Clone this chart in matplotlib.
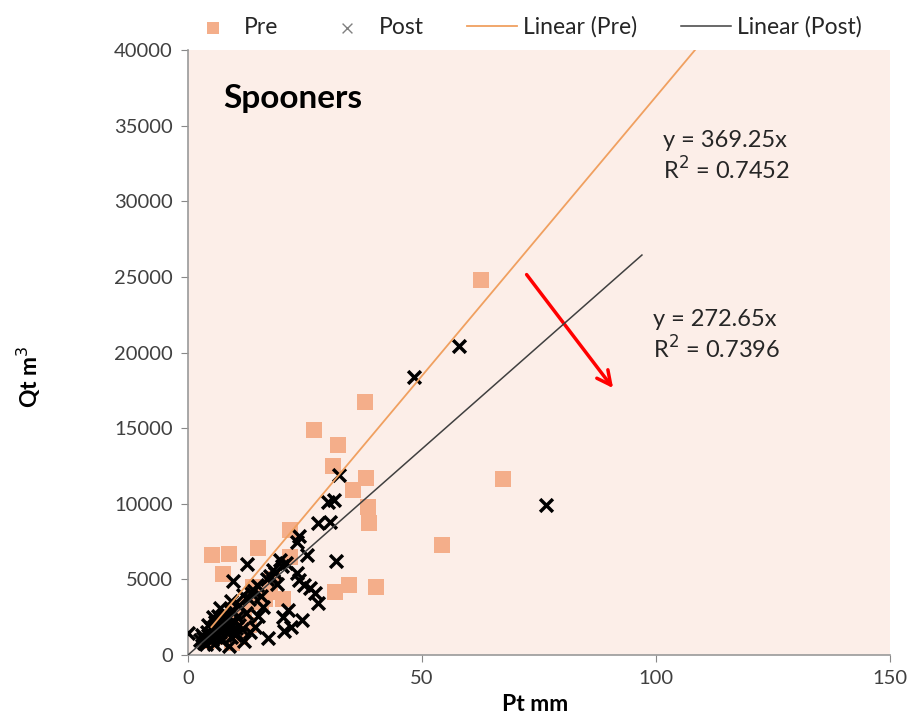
import numpy as np
import matplotlib.pyplot as plt

plt.rcParams['font.family'] = ['Lato', 'DejaVu Sans']

# rainfall (Pt, mm) vs runoff (Qt, m3), before and after
pre_pt = [62.6, 37.9, 27.0, 32.1, 30.9, 38.1, 67.4, 35.3, 38.5, 38.7, 21.7, 54.3,
          5.1, 8.7, 15.0, 7.4, 21.7, 40.2, 34.5, 31.5, 20.2, 10.0, 12.8, 15.7,
          16.5, 17.5, 9.4, 11.1, 13.0, 8.0, 6.0, 18.0, 14.0, 12.0, 4.0]
pre_qt = [24800, 16700, 14900, 13900, 12500, 11700, 11650, 10900, 9800, 8700, 8250, 7300,
          6600, 6700, 7050, 5350, 6500, 4500, 4600, 4150, 3700, 2950, 3400, 3500,
          3700, 4200, 800, 1200, 2000, 1500, 1200, 5000, 4500, 2500, 900]

post_pt = [57.9, 48.3, 76.6, 32.3, 30.0, 31.1, 27.7, 30.4, 31.7, 25.5, 23.8, 23.2,
           19.6, 18.1, 16.8, 23.2, 23.8, 24.9, 26.0, 27.1, 27.7, 21.3, 20.2, 24.3,
           22.1, 20.6, 17.0, 14.3, 12.6, 9.6, 0.0,
           2.5, 3.0, 3.5, 4.0, 4.5, 5.0, 5.5, 5.8, 6.2, 6.5, 7.0, 7.2, 7.8, 8.0,
           8.4, 8.8, 9.0, 9.5, 10.0, 10.5, 11.0, 11.5, 12.0, 12.5, 13.0, 13.5,
           14.0, 14.8, 15.5, 16.0, 17.5, 18.5, 19.0, 20.0, 21.0, 4.2, 6.8, 9.2,
           11.8, 15.0, 13.2,
           3.2, 3.8, 4.6, 5.2, 5.6, 6.0, 6.4, 6.9, 7.4, 7.9, 8.3, 8.7, 9.3, 9.8,
           10.3, 10.8, 5.4, 7.6]
post_qt = [20400, 18400, 9950, 11900, 10100, 10250, 8750, 8800, 6200, 6600, 7900, 7450,
           6250, 5600, 5000, 5400, 4950, 4650, 4400, 4100, 3450, 2950, 2500, 2300,
           1850, 1600, 1150, 1850, 6050, 4900, 1450,
           1000, 1300, 800, 1500, 1100, 1800, 700, 2200, 1400, 2600, 1000, 1900, 2300, 2800,
           1500, 600, 2100, 3000, 1300, 2500, 3300, 1700, 900, 2800, 3700, 4100,
           4300, 4600, 3900, 3200, 5200, 5400, 4700, 5900, 6100, 2000, 3100, 3600,
           4000, 2600, 1500,
           1100, 700, 1300, 1000, 1600, 1200, 1900, 1500, 2100, 1700, 2400, 1900, 1200, 2200,
           1800, 2000, 2500, 2600]

# trendlines through origin
slope_pre = 369.25
slope_post = 272.65
r2_pre = 0.7452
r2_post = 0.7396
pre_x = np.array([5.0, 40000 / slope_pre])
post_x = np.array([0.0, 97.0])

fig = plt.figure(figsize=(9.16, 7.14), dpi=100)
ax = fig.add_axes([0.2052, 0.0826, 0.7664, 0.8473])
ax.set_facecolor('#FCEEE8')

ax.scatter(pre_pt, pre_qt, marker='s', s=120, color='#F4AE8A', linewidths=0,
           label='Pre', zorder=2)
ax.scatter(post_pt, post_qt, marker='x', s=85, color='black', linewidths=2.5,
           label='Post', zorder=3)
ax.plot(pre_x, slope_pre * pre_x, color='#F0A060', lw=1.3, label='Linear (Pre)', zorder=4)
ax.plot(post_x, slope_post * post_x, color='#404040', lw=1.1, label='Linear (Post)', zorder=4)

ax.set_xlim(0, 150)
ax.set_ylim(0, 40000)
ax.set_xticks([0, 50, 100, 150])
ax.set_yticks(np.arange(0, 40001, 5000))
ax.tick_params(direction='out', length=5, color='#888888', labelcolor='#404040',
               labelsize=14.5, pad=6)
for side in ['top', 'right']:
    ax.spines[side].set_visible(False)
for side in ['left', 'bottom']:
    ax.spines[side].set_color('#999999')
    ax.spines[side].set_linewidth(1.2)

ax.set_xlabel('Pt mm', fontsize=16.5, fontweight='bold')
ax.xaxis.set_label_coords(0.495, -0.065)
ax.set_ylabel('Qt m$^3$', fontsize=16.5, fontweight='bold')
ax.yaxis.set_label_coords(-0.206, 0.46)

ax.text(7.5, 36800, 'Spooners', fontsize=24, fontweight='bold', va='center')
ax.text(101.5, 32950, f'y = {slope_pre}x\nR$^2$ = {r2_pre}', fontsize=17,
        color='#262626', va='center', linespacing=1.25)
ax.text(99.3, 21100, f'y = {slope_post}x\nR$^2$ = {r2_post}', fontsize=17,
        color='#262626', va='center', linespacing=1.25)

ax.annotate('', xy=(91.2, 17500), xytext=(72.0, 25300),
            arrowprops=dict(arrowstyle='->', color='red', lw=2.5,
                            mutation_scale=25))

leg = ax.legend(loc='lower center', bbox_to_anchor=(0.48, 1.005), ncol=4, frameon=False,
                fontsize=16.5, handlelength=2.2, handletextpad=0.25, columnspacing=1.9,
                labelcolor='#262626', borderaxespad=0)
# legend markers are drawn lighter and smaller than the data markers
leg.legend_handles[0].set_sizes([70])
leg.legend_handles[1].set_sizes([50])
leg.legend_handles[1].set_linewidths([1.0])
leg.legend_handles[1].set_color('#808080')

fig.savefig('out.png', dpi=100)
